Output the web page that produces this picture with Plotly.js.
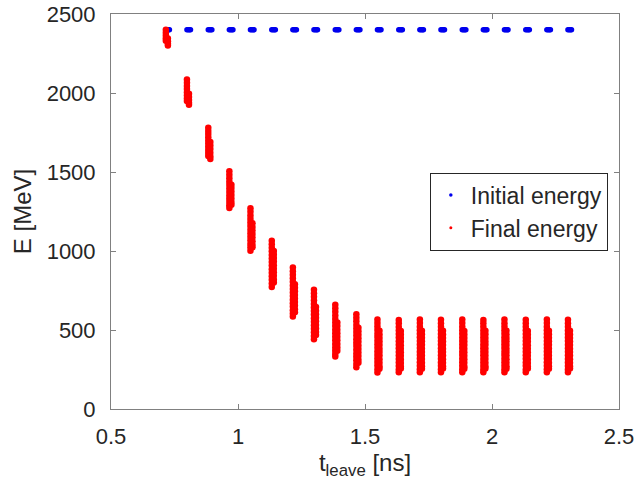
<!DOCTYPE html>
<html>
<head>
<meta charset="utf-8">
<script src="https://cdn.plot.ly/plotly-3.0.1.min.js"></script>
<style>
  html, body { margin: 0; padding: 0; background: #ffffff; }
  #chart { width: 636px; height: 481px; }
</style>
</head>
<body>
<div id="chart"></div>
<script>
// Leave time of each bunch [ns]
const leaveTimes = [0.716, 0.799, 0.883, 0.966, 1.049, 1.133, 1.216, 1.299, 1.383, 1.466,
                    1.549, 1.633, 1.716, 1.799, 1.883, 1.966, 2.049, 2.133, 2.216, 2.299];

// Spread of leave times inside one bunch [ns]
const initialTimeSpread = [0, 0.005, 0.010, 0.014];
const initialEnergy = 2400; // MeV, same for every particle

// Particles in the tail of a bunch leave a little later [ns]
const tailDelay = 0.008;

// Final energies [MeV] of the bunch head particles
const finalHeadE = [
  [2400, 2382, 2364, 2346, 2330],
  [2085, 2065, 2045, 2025, 2005, 1985, 1966, 1950],
  [1780, 1760, 1740, 1720, 1700, 1680, 1660, 1640, 1620, 1602],
  [1505, 1483, 1461, 1439, 1417, 1395, 1373, 1351, 1330, 1310, 1290, 1272],
  [1270, 1248, 1225, 1203, 1180, 1158, 1135, 1113, 1090, 1068, 1045, 1023, 1002],
  [1065, 1043, 1020, 998, 975, 953, 930, 908, 885, 863, 840, 818, 795, 772],
  [895, 872, 850, 828, 805, 782, 760, 738, 715, 692, 670, 648, 625, 604, 586],
  [755, 733, 710, 688, 665, 642, 620, 598, 575, 552, 530, 508, 485, 462, 442],
  [660, 638, 615, 592, 570, 548, 525, 502, 480, 458, 435, 412, 390, 368, 348, 332],
  [600, 578, 555, 532, 510, 488, 465, 442, 420, 398, 375, 352, 330, 308, 285, 264],
  [567, 545, 522, 500, 477, 455, 432, 410, 387, 364, 342, 320, 297, 275, 252, 231],
  [564, 542, 519, 497, 474, 452, 429, 407, 384, 361, 339, 317, 294, 272, 250, 233],
  [566, 544, 521, 499, 476, 454, 431, 409, 386, 363, 341, 319, 296, 274, 251, 232],
  [565, 543, 520, 498, 475, 453, 430, 408, 385, 362, 340, 318, 295, 273, 251, 233],
  [566, 544, 521, 498, 476, 453, 431, 408, 386, 363, 341, 318, 296, 273, 251, 232],
  [564, 542, 520, 497, 475, 452, 430, 407, 385, 362, 340, 317, 295, 272, 250, 233],
  [566, 543, 521, 498, 476, 453, 431, 408, 386, 363, 341, 318, 296, 273, 251, 232],
  [565, 543, 520, 498, 475, 453, 430, 408, 385, 363, 340, 318, 295, 273, 250, 233],
  [566, 544, 521, 499, 476, 454, 431, 409, 386, 364, 341, 319, 296, 274, 251, 232],
  [565, 542, 520, 497, 475, 452, 430, 407, 385, 362, 340, 317, 295, 272, 250, 233]
];

// Final energies [MeV] of the bunch tail particles
const finalTailE = [
  [2345, 2328, 2312, 2300],
  [1995, 1975, 1955, 1938, 1925],
  [1690, 1668, 1645, 1622, 1600, 1582],
  [1420, 1398, 1376, 1354, 1332, 1310, 1292],
  [1175, 1152, 1130, 1108, 1085, 1062, 1040, 1024],
  [1000, 978, 955, 933, 910, 888, 865, 843, 820, 800],
  [790, 768, 745, 722, 700, 678, 655, 632, 612],
  [645, 622, 600, 578, 555, 532, 510, 488, 468],
  [548, 525, 502, 480, 458, 435, 412, 390, 368],
  [515, 492, 470, 448, 425, 402, 380, 358, 335, 312, 292],
  [495, 472, 450, 428, 405, 382, 360, 338, 315, 292, 270, 255],
  [494, 471, 449, 427, 404, 381, 359, 337, 314, 291, 269, 256],
  [496, 473, 451, 429, 406, 383, 361, 339, 316, 293, 271, 255],
  [495, 472, 450, 428, 405, 382, 360, 338, 315, 292, 270, 256],
  [494, 472, 449, 427, 405, 382, 359, 337, 315, 292, 269, 255],
  [496, 473, 450, 428, 406, 383, 360, 338, 316, 293, 270, 256],
  [495, 472, 450, 428, 405, 382, 360, 338, 315, 292, 270, 255],
  [494, 471, 449, 427, 404, 381, 359, 337, 314, 291, 269, 256],
  [496, 473, 451, 429, 406, 383, 361, 339, 316, 293, 271, 255],
  [495, 472, 450, 428, 405, 382, 360, 338, 315, 292, 270, 256]
];

const seriesNames = ['Initial energy', 'Final energy'];
const xTicks = [0.5, 1, 1.5, 2, 2.5];
const yTicks = [0, 500, 1000, 1500, 2000, 2500];

// Flatten the bunches into point lists
const initT = [], initE = [];
leaveTimes.forEach(t => {
  initialTimeSpread.forEach(dt => { initT.push(t + dt); initE.push(initialEnergy); });
});

const finT = [], finE = [];
leaveTimes.forEach((t, k) => {
  finalHeadE[k].forEach(e => { finT.push(t); finE.push(e); });
  finalTailE[k].forEach(e => { finT.push(t + tailDelay); finE.push(e); });
});

const textColor = '#262626';
const axisColor = '#808080';
const blue = '#0000ee';
const red = '#ff0000';
const fontFamily = '"Liberation Sans", Arial, Helvetica, sans-serif';

const traces = [
  {
    type: 'scatter', mode: 'markers', name: seriesNames[0], showlegend: false,
    x: initT, y: initE,
    marker: { color: blue, size: 5.5, line: { width: 0 } }
  },
  {
    type: 'scatter', mode: 'markers', name: seriesNames[1], showlegend: false,
    x: finT, y: finE,
    marker: { color: red, size: 6.5, line: { width: 0 } }
  },
  // legend keys drawn with small dots
  {
    type: 'scatter', mode: 'markers', name: seriesNames[0], showlegend: true,
    x: [null], y: [null], marker: { color: blue, size: 3.5 }
  },
  {
    type: 'scatter', mode: 'markers', name: seriesNames[1], showlegend: true,
    x: [null], y: [null], marker: { color: red, size: 3 }
  }
];

const axisCommon = {
  showgrid: false, zeroline: false,
  showline: true, linecolor: axisColor, linewidth: 1, mirror: 'ticks',
  ticks: 'inside', ticklen: 5, tickwidth: 1, tickcolor: axisColor,
  tickfont: { family: fontFamily, size: 22, color: textColor },
  automargin: false
};

const layout = {
  width: 636, height: 481,
  margin: { l: 111, r: 17, t: 14, b: 72 },
  paper_bgcolor: '#ffffff', plot_bgcolor: '#ffffff',
  font: { family: fontFamily, color: textColor },
  showlegend: true,
  xaxis: Object.assign({}, axisCommon, {
    range: [0.5, 2.5], tickvals: xTicks, ticktext: xTicks.map(String),
    ticklabelstandoff: 8,
    title: { text: 't<sub>leave</sub> [ns]', font: { family: fontFamily, size: 24, color: textColor }, standoff: 4 }
  }),
  yaxis: Object.assign({}, axisCommon, {
    range: [0, 2500], tickvals: yTicks, ticktext: yTicks.map(String),
    ticklabelstandoff: 10,
    title: { text: 'E [MeV]', font: { family: fontFamily, size: 24, color: textColor }, standoff: 8 }
  }),
  legend: {
    x: 0.978, xanchor: 'right', y: 0.5, yanchor: 'middle',
    bgcolor: '#ffffff', bordercolor: textColor, borderwidth: 1,
    font: { family: fontFamily, size: 23, color: textColor },
    itemsizing: 'trace'
  }
};

Plotly.newPlot('chart', traces, layout, { displayModeBar: false, staticPlot: true });
</script>
</body>
</html>
